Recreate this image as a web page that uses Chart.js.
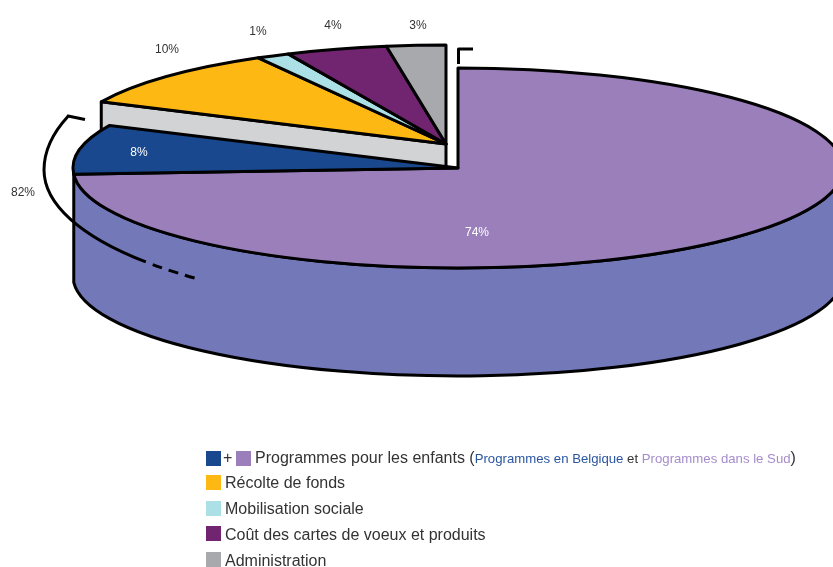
<!DOCTYPE html>
<html><head><meta charset="utf-8">
<style>html,body{margin:0;padding:0;background:#fff}canvas{display:block}</style>
<script src="https://cdn.jsdelivr.net/npm/chart.js@4"></script>
</head><body><canvas id="c" width="833" height="567"></canvas>
<script>
const categories = ['Programmes dans le Sud','Programmes en Belgique','Récolte de fonds','Mobilisation sociale','Coût des cartes de voeux et produits','Administration'];
const values = [74, 8, 9.8, 1.4, 4.3, 2.5];
const valueLabels = ['74%','8%','10%','1%','4%','3%'];
const sliceColors = ['#9a7fbb','#19488f','#feb813','#abe0e6','#71246f','#a7a9ac'];
const bracketLabel = '82%';
const SIDE='#7278b8', WALL='#d1d3d4', INK='#000', TXT='#333';
const BASE={cx:458,cy:168,rx:385,ry:100,depth:108};
const LIFT={cx:446,cy:144,rx:381,ry:99,wall:34};
const LABEL_POS=[[477,233],[139,153],[167,50],[258,32],[333,26],[418,26]];
const FONT='"Liberation Sans", Arial, sans-serif';

function tracePie(ctx,arc,g){
  ctx.beginPath();
  ctx.moveTo(g.cx,g.cy);
  ctx.ellipse(g.cx,g.cy,g.rx,g.ry,0,arc.startAngle,arc.endAngle);
  ctx.closePath();
}
function drawSlice(ctx,arc,g){
  ctx.save();
  const k=arc.outerRadius;
  ctx.translate(g.cx,g.cy);ctx.scale(g.rx/k,g.ry/k);ctx.translate(-arc.x,-arc.y);
  arc.draw(ctx);
  ctx.restore();
  tracePie(ctx,arc,g);ctx.stroke();
}
function legendRow(ctx,y,parts,x){
  parts.forEach(p=>{
    ctx.font=p[2]+'px '+FONT;ctx.fillStyle=p[1];
    ctx.fillText(p[0],x,y);x+=ctx.measureText(p[0]).width;
  });
}
const pie3d={id:'pie3d',
  beforeDatasetDraw(){return false;},
  afterDatasetsDraw(chart){
    const ctx=chart.ctx,arcs=chart.getDatasetMeta(0).data;
    ctx.save();
    ctx.lineWidth=3;ctx.strokeStyle=INK;ctx.lineJoin='round';ctx.lineCap='butt';
    // wall of the lifted group
    const a0=arcs[2].startAngle;
    const px=LIFT.cx+LIFT.rx*Math.cos(a0),py=LIFT.cy+LIFT.ry*Math.sin(a0);
    ctx.beginPath();ctx.moveTo(px,py);ctx.lineTo(LIFT.cx,LIFT.cy);ctx.lineTo(LIFT.cx,LIFT.cy+LIFT.wall-9);ctx.lineTo(px,py+LIFT.wall);ctx.closePath();
    ctx.fillStyle=WALL;ctx.fill();ctx.stroke();
    for(let i=2;i<arcs.length;i++)drawSlice(ctx,arcs[i],LIFT);
    // side of the base
    const e=arcs[0].endAngle,g=BASE;
    ctx.beginPath();
    ctx.ellipse(g.cx,g.cy,g.rx,g.ry,0,0,e);
    ctx.ellipse(g.cx,g.cy+g.depth,g.rx,g.ry,0,e,0,true);
    ctx.closePath();ctx.fillStyle=SIDE;ctx.fill();ctx.stroke();
    drawSlice(ctx,arcs[0],g);drawSlice(ctx,arcs[1],g);
    // brackets
    ctx.beginPath();ctx.moveTo(458.5,64);ctx.lineTo(458.5,49);ctx.lineTo(473,49);ctx.stroke();
    ctx.beginPath();ctx.moveTo(85,119.5);ctx.lineTo(68,116);
    ctx.ellipse(458,170,414,160,0,Math.PI+0.343,Math.PI,true);
    ctx.ellipse(458,170,414,140,0,Math.PI,2.425,true);
    ctx.stroke();
    ctx.setLineDash([10,7]);
    ctx.beginPath();ctx.ellipse(458,170,414,140,0,2.40,2.255,true);ctx.stroke();
    ctx.setLineDash([]);
    // value labels
    ctx.textAlign='center';ctx.textBaseline='middle';ctx.font='12px '+FONT;
    valueLabels.forEach((t,i)=>{ctx.fillStyle=i<2?'#fff':TXT;ctx.fillText(t,LABEL_POS[i][0],LABEL_POS[i][1]);});
    ctx.fillStyle=TXT;ctx.fillText(bracketLabel,23,193);
    // legend
    ctx.textAlign='left';
    const sq=(x,y,c)=>{ctx.fillStyle=c;ctx.fillRect(x,y,15,15);};
    sq(206,451,sliceColors[1]);sq(236,451,sliceColors[0]);
    ctx.fillStyle=TXT;ctx.font='16px '+FONT;ctx.fillText('+',223,459);
    legendRow(ctx,459,[['Programmes pour les enfants (',TXT,16],[categories[1],'#2a55a0',13.2],[' et ',TXT,13.2],[categories[0],'#a58ccb',13.2],[')',TXT,16]],255);
    [[2,484,475],[3,510,501],[4,536,526],[5,562,552]].forEach(r=>{
      sq(206,r[2],sliceColors[r[0]]);
      legendRow(ctx,r[1],[[categories[r[0]],TXT,16]],225);
    });
    ctx.restore();
  }
};
new Chart(document.getElementById('c'),{
  type:'pie',
  data:{labels:categories,datasets:[{data:values,backgroundColor:sliceColors,borderWidth:0}]},
  options:{responsive:false,animation:false,events:[],
    plugins:{legend:{display:false},tooltip:{enabled:false}}},
  plugins:[pie3d]
});
</script></body></html>
